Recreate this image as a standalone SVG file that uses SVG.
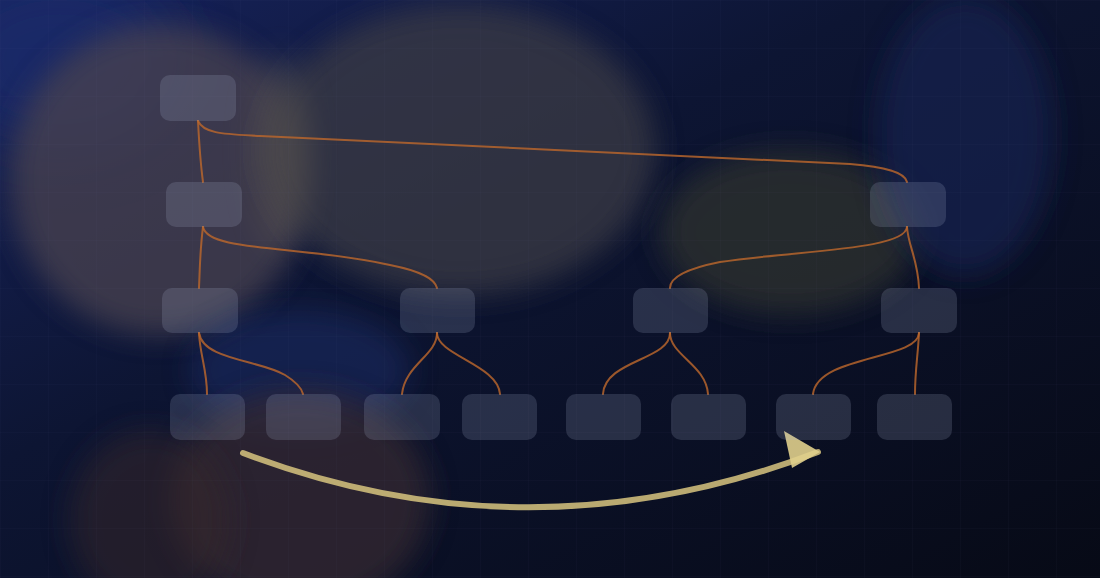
<svg xmlns="http://www.w3.org/2000/svg" width="1100" height="578" viewBox="0 0 1100 578">
  <defs>
    <linearGradient id="bg" x1="0" y1="0" x2="1" y2="1">
      <stop offset="0" stop-color="#17235c"/>
      <stop offset="0.4" stop-color="#0d1533"/>
      <stop offset="1" stop-color="#070a16"/>
    </linearGradient>
    <filter id="blur" x="-50%" y="-50%" width="200%" height="200%">
      <feGaussianBlur stdDeviation="14"/>
    </filter>
    <filter id="blur2" x="-50%" y="-50%" width="200%" height="200%">
      <feGaussianBlur stdDeviation="30"/>
    </filter>
    <pattern id="grid" width="48" height="48" patternUnits="userSpaceOnUse">
      <path d="M48 0 L0 0 0 48" fill="none" stroke="#5a6a9a" stroke-width="1" opacity="0.08"/>
    </pattern>
    <style>
      .node { fill: #aab2d0; fill-opacity: 0.19; }
      .edge { fill: none; stroke: #bb662c; stroke-width: 2; stroke-opacity: 0.82; stroke-linecap: round; }
      .arrow { fill: none; stroke: #d2bf7c; stroke-width: 6; stroke-opacity: 0.88; stroke-linecap: round; }
      .head { fill: #e0cf8c; fill-opacity: 0.9; }
    </style>
  </defs>

  <!-- background -->
  <rect width="1100" height="578" fill="url(#bg)"/>
  <g id="bokeh">
    <ellipse cx="60" cy="60" rx="120" ry="90" fill="#1e2f72" opacity="0.6" filter="url(#blur2)"/>
    <ellipse cx="160" cy="180" rx="150" ry="155" fill="#48424f" opacity="0.75" filter="url(#blur)"/>
    <ellipse cx="460" cy="150" rx="195" ry="145" fill="#3b3a45" opacity="0.75" filter="url(#blur)"/>
    <ellipse cx="280" cy="150" rx="30" ry="100" fill="#6a6455" opacity="0.3" filter="url(#blur)"/>
    <ellipse cx="790" cy="232" rx="130" ry="82" fill="#2f302e" opacity="0.75" filter="url(#blur)"/>
    <ellipse cx="965" cy="135" rx="88" ry="140" fill="#14224f" opacity="0.7" filter="url(#blur)"/>
    <ellipse cx="300" cy="370" rx="110" ry="60" fill="#1d2d6a" opacity="0.5" filter="url(#blur)"/>
    <ellipse cx="300" cy="500" rx="130" ry="110" fill="#382a30" opacity="0.7" filter="url(#blur)"/>
    <ellipse cx="150" cy="520" rx="80" ry="90" fill="#34272a" opacity="0.55" filter="url(#blur)"/>
  </g>
  <rect width="1100" height="578" fill="url(#grid)"/>

  <!-- connectors -->
  <g id="connectors">
    <path class="edge" d="M198 121 C199 140 200 160 203 182"/>
    <path class="edge" d="M198 121 C204 134 225 134 260 136 L850 164 C885 167 905 172 907 182"/>
    <path class="edge" d="M203 227 C200 250 200 265 199 288"/>
    <path class="edge" d="M203 227 C208 252 300 245 390 265 C425 272 435 280 437 288"/>
    <path class="edge" d="M907 227 C905 250 800 250 720 262 C680 270 670 280 670 288"/>
    <path class="edge" d="M907 227 C908 245 918 260 919 288"/>
    <path class="edge" d="M199 333 C200 355 207 370 207 394"/>
    <path class="edge" d="M199 333 C203 360 260 360 285 375 C298 383 302 390 303 394"/>
    <path class="edge" d="M437 333 C437 355 405 365 402 394"/>
    <path class="edge" d="M437 333 C437 355 498 365 500 394"/>
    <path class="edge" d="M670 333 C670 360 605 360 603 394"/>
    <path class="edge" d="M670 333 C670 355 706 365 708 394"/>
    <path class="edge" d="M919 333 C918 360 818 355 813 394"/>
    <path class="edge" d="M919 333 C918 355 915 370 915 394"/>
    <path class="arrow" d="M243 453 Q530 562 818 452"/>
    <polygon class="head" points="784,431 792,468 820,452"/>
  </g>

  <!-- nodes -->
  <g id="n0"><rect class="node" x="160" y="75" width="76" height="46" rx="10"/></g>
  <g id="n1a"><rect class="node" x="166" y="182" width="76" height="45" rx="10"/></g>
  <g id="n1b"><rect class="node" x="870" y="182" width="76" height="45" rx="10"/></g>
  <g id="n2a"><rect class="node" x="162" y="288" width="76" height="45" rx="10"/></g>
  <g id="n2b"><rect class="node" x="400" y="288" width="75" height="45" rx="10"/></g>
  <g id="n2c"><rect class="node" x="633" y="288" width="75" height="45" rx="10"/></g>
  <g id="n2d"><rect class="node" x="881" y="288" width="76" height="45" rx="10"/></g>
  <g id="n3a"><rect class="node" x="170" y="394" width="75" height="46" rx="10"/></g>
  <g id="n3b"><rect class="node" x="266" y="394" width="75" height="46" rx="10"/></g>
  <g id="n3c"><rect class="node" x="364" y="394" width="76" height="46" rx="10"/></g>
  <g id="n3d"><rect class="node" x="462" y="394" width="75" height="46" rx="10"/></g>
  <g id="n3e"><rect class="node" x="566" y="394" width="75" height="46" rx="10"/></g>
  <g id="n3f"><rect class="node" x="671" y="394" width="75" height="46" rx="10"/></g>
  <g id="n3g"><rect class="node" x="776" y="394" width="75" height="46" rx="10"/></g>
  <g id="n3h"><rect class="node" x="877" y="394" width="75" height="46" rx="10"/></g>
</svg>
